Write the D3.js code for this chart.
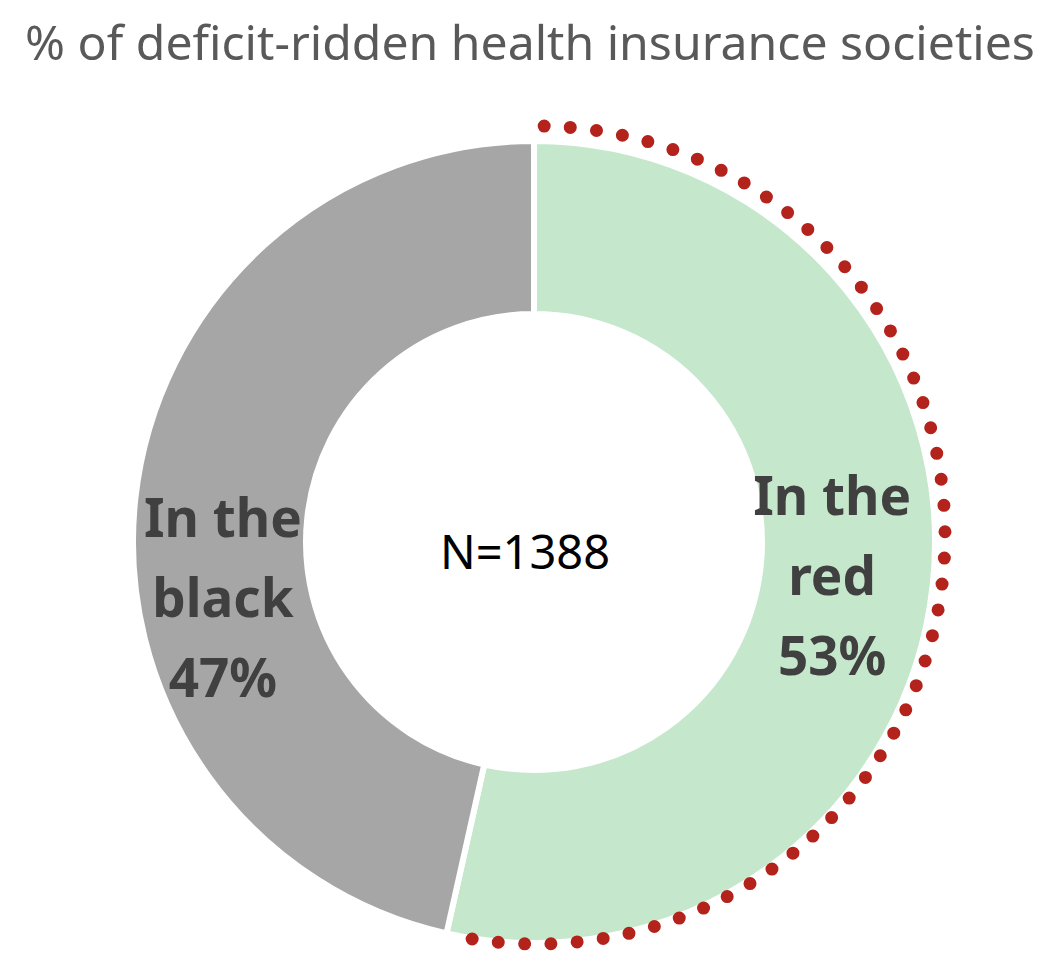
<!DOCTYPE html>
<html>
<head>
<meta charset="utf-8">
<script src="https://cdn.jsdelivr.net/npm/d3@7"></script>
<style>
  body { margin: 0; background: #fff; }
</style>
</head>
<body>
<script>
//chart data
var categories = ["In the red", "In the black"];
var shares = [53.5, 46.5]; //percent of societies, as drawn (labels say 53 / 47)
var labelLines = [["In the", "red", "53%"], ["In the", "black", "47%"]];
var sampleText = "N=1388";
var titleText = "% of deficit-ridden health insurance societies";

//layout
var w = 1056, h = 978;
var cx = 534, cy = 542;
var outerR = 401, innerR = 228;
var colors = {"In the red": "#c5e7cb", "In the black": "#a6a6a6"};
//hand tweaks for the label blocks (dx, dy from the ring centroid)
var labelNudge = {"In the red": [-12, 21], "In the black": [-1, 111]};

window.onload = function(){

    var svg = d3.select("body")
        .append("svg")
        .attr("width", w)
        .attr("height", h);

    //title, shrunk to fit the width of the original
    var title = svg.append("text")
        .attr("x", 530)
        .attr("y", 60)
        .attr("text-anchor", "middle")
        .style("font-family", "'Noto Sans', sans-serif")
        .style("font-size", "42px")
        .style("fill", "#595959")
        .text(titleText);
    var tw = title.node().getComputedTextLength();
    title.style("font-size", (42 * 1010 / tw) + "px");

    var rows = categories.map(function(c, i){
        return {name: c, value: shares[i], lines: labelLines[i]};
    });

    var pie = d3.pie()
        .sort(null)
        .value(function(d){ return d.value; });

    var arcs = pie(rows);

    var arc = d3.arc()
        .innerRadius(innerR)
        .outerRadius(outerR);

    var g = svg.append("g")
        .attr("transform", "translate(" + cx + "," + cy + ")");

    g.selectAll("path.slice")
        .data(arcs)
        .enter()
        .append("path")
        .attr("class", "slice")
        .attr("d", arc)
        .style("fill", function(d){ return colors[d.data.name]; })
        .style("stroke", "#fff")
        .style("stroke-width", 6)
        .style("stroke-linejoin", "miter");

    //dotted red outline along the "in the red" slice
    var red = arcs[0];
    var dotR = 409;
    var p = d3.path();
    p.arc(2, -7, dotR, red.startAngle + 0.02 - Math.PI / 2, red.endAngle - Math.PI / 2);
    var len = dotR * (red.endAngle - red.startAngle - 0.02);
    var gap = len / Math.round(len / 26.5);
    g.append("path")
        .attr("d", p.toString())
        .style("fill", "none")
        .style("stroke", "#b3221b")
        .style("stroke-width", 13)
        .style("stroke-linecap", "round")
        .style("stroke-dasharray", "0 " + gap);

    //slice labels
    var labelArc = d3.arc().innerRadius(312).outerRadius(312);
    arcs.forEach(function(d){
        var c = labelArc.centroid(d);
        var n = labelNudge[d.data.name];
        var t = g.append("text")
            .attr("text-anchor", "middle")
            .style("font-family", "'Noto Sans', sans-serif")
            .style("font-weight", "bold")
            .style("font-size", "53px")
            .style("fill", "#404040");
        d.data.lines.forEach(function(line, i){
            t.append("tspan")
                .attr("x", c[0] + n[0])
                .attr("y", c[1] + n[1] + (i - 1) * 80 - 2)
                .text(line);
        });
    });

    //sample size in the hole
    g.append("text")
        .attr("x", -9)
        .attr("y", 27)
        .attr("text-anchor", "middle")
        .style("font-family", "'Noto Sans', sans-serif")
        .style("font-size", "47px")
        .style("fill", "#000")
        .text(sampleText);
};
</script>
</body>
</html>
